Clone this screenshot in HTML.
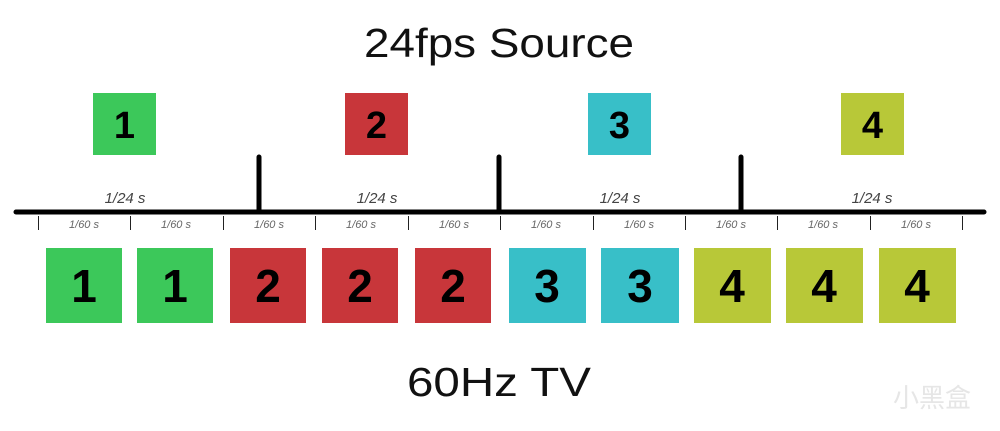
<!DOCTYPE html>
<html><head><meta charset="utf-8"><style>body{margin:0;background:#fff}</style></head><body>
<svg width="1000" height="426" xmlns="http://www.w3.org/2000/svg" font-family="Liberation Sans, sans-serif">
<rect width="1000" height="426" fill="#fff"/>
<text x="499" y="57" font-size="41" text-anchor="middle" textLength="270" lengthAdjust="spacingAndGlyphs" fill="#111">24fps Source</text>
<text x="499" y="396" font-size="41" text-anchor="middle" textLength="184" lengthAdjust="spacingAndGlyphs" fill="#111">60Hz TV</text>
<g font-weight="bold" font-size="38" text-anchor="middle" fill="#000">
<rect x="93" y="93" width="63" height="62" fill="#3cc85a"/><text x="124.5" y="138">1</text>
<rect x="345" y="93" width="63" height="62" fill="#c8363a"/><text x="376.5" y="138">2</text>
<rect x="588" y="93" width="63" height="62" fill="#38bfc8"/><text x="619.5" y="138">3</text>
<rect x="841" y="93" width="63" height="62" fill="#b8c838"/><text x="872.5" y="138">4</text>
</g>
<g stroke="#000" stroke-linecap="round">
<line x1="16" y1="212" x2="984" y2="212" stroke-width="5"/>
<line x1="259" y1="157" x2="259" y2="212" stroke-width="5"/>
<line x1="499" y1="157" x2="499" y2="212" stroke-width="5"/>
<line x1="741" y1="157" x2="741" y2="212" stroke-width="5"/>
</g>
<g stroke="#222" stroke-width="1">
<line x1="38.5" y1="216" x2="38.5" y2="230"/><line x1="130.5" y1="216" x2="130.5" y2="230"/>
<line x1="223.5" y1="216" x2="223.5" y2="230"/><line x1="315.5" y1="216" x2="315.5" y2="230"/>
<line x1="408.5" y1="216" x2="408.5" y2="230"/><line x1="500.5" y1="216" x2="500.5" y2="230"/>
<line x1="593.5" y1="216" x2="593.5" y2="230"/><line x1="685.5" y1="216" x2="685.5" y2="230"/>
<line x1="777.5" y1="216" x2="777.5" y2="230"/><line x1="870.5" y1="216" x2="870.5" y2="230"/>
<line x1="962.5" y1="216" x2="962.5" y2="230"/>
</g>
<g font-style="italic" font-size="15" fill="#444" text-anchor="middle">
<text x="125" y="203">1/24 s</text><text x="377" y="203">1/24 s</text>
<text x="620" y="203">1/24 s</text><text x="872" y="203">1/24 s</text>
</g>
<g font-style="italic" font-size="11" fill="#666" text-anchor="middle">
<text x="84" y="228">1/60 s</text><text x="176" y="228">1/60 s</text><text x="269" y="228">1/60 s</text>
<text x="361" y="228">1/60 s</text><text x="454" y="228">1/60 s</text><text x="546" y="228">1/60 s</text>
<text x="639" y="228">1/60 s</text><text x="731" y="228">1/60 s</text><text x="823" y="228">1/60 s</text>
<text x="916" y="228">1/60 s</text>
</g>
<g font-weight="bold" font-size="46" text-anchor="middle" fill="#000">
<rect x="46" y="248" width="76" height="75" fill="#3cc85a"/><text x="84" y="302">1</text>
<rect x="137" y="248" width="76" height="75" fill="#3cc85a"/><text x="175" y="302">1</text>
<rect x="230" y="248" width="76" height="75" fill="#c8363a"/><text x="268" y="302">2</text>
<rect x="322" y="248" width="76" height="75" fill="#c8363a"/><text x="360" y="302">2</text>
<rect x="415" y="248" width="76" height="75" fill="#c8363a"/><text x="453" y="302">2</text>
<rect x="509" y="248" width="77" height="75" fill="#38bfc8"/><text x="547" y="302">3</text>
<rect x="601" y="248" width="78" height="75" fill="#38bfc8"/><text x="640" y="302">3</text>
<rect x="694" y="248" width="77" height="75" fill="#b8c838"/><text x="732" y="302">4</text>
<rect x="786" y="248" width="77" height="75" fill="#b8c838"/><text x="824" y="302">4</text>
<rect x="879" y="248" width="77" height="75" fill="#b8c838"/><text x="917" y="302">4</text>
</g>
<text x="893" y="407" font-family="Noto Sans CJK SC, sans-serif" font-size="26" fill="#e6e6e6">小黑盒</text>
</svg>
</body></html>
